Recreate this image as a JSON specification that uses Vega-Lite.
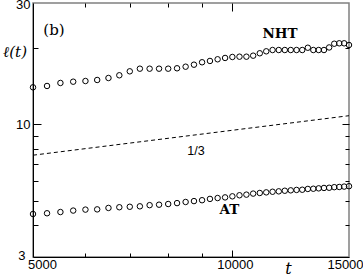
{
  "$schema": "https://vega.github.io/schema/vega-lite/v6.json",
  "width": 316,
  "height": 254,
  "autosize": "none",
  "padding": {"left": 33, "top": 3, "right": 14, "bottom": 19},
  "config": {"view": {"stroke": "#808080", "strokeWidth": 1.5}, "font": "Liberation Sans"},
  "datasets": {
    "points": [
      {"series": "NHT", "t": 5000, "l": 13.97}, {"series": "NHT", "t": 5250, "l": 14.14}, {"series": "NHT", "t": 5500, "l": 14.53},
      {"series": "NHT", "t": 5750, "l": 14.70}, {"series": "NHT", "t": 6000, "l": 14.79}, {"series": "NHT", "t": 6250, "l": 14.93},
      {"series": "NHT", "t": 6500, "l": 15.20}, {"series": "NHT", "t": 6750, "l": 15.58}, {"series": "NHT", "t": 7000, "l": 16.15},
      {"series": "NHT", "t": 7250, "l": 16.54}, {"series": "NHT", "t": 7500, "l": 16.54}, {"series": "NHT", "t": 7750, "l": 16.54},
      {"series": "NHT", "t": 8000, "l": 16.54}, {"series": "NHT", "t": 8250, "l": 16.60}, {"series": "NHT", "t": 8500, "l": 16.84},
      {"series": "NHT", "t": 8750, "l": 17.15}, {"series": "NHT", "t": 9000, "l": 17.53}, {"series": "NHT", "t": 9250, "l": 17.74},
      {"series": "NHT", "t": 9500, "l": 18.01}, {"series": "NHT", "t": 9750, "l": 18.23}, {"series": "NHT", "t": 10000, "l": 18.39},
      {"series": "NHT", "t": 10250, "l": 18.44}, {"series": "NHT", "t": 10500, "l": 18.44}, {"series": "NHT", "t": 10750, "l": 18.61},
      {"series": "NHT", "t": 11000, "l": 19.02}, {"series": "NHT", "t": 11250, "l": 19.36}, {"series": "NHT", "t": 11500, "l": 19.59},
      {"series": "NHT", "t": 11750, "l": 19.59}, {"series": "NHT", "t": 12000, "l": 19.59}, {"series": "NHT", "t": 12250, "l": 19.59},
      {"series": "NHT", "t": 12500, "l": 19.59}, {"series": "NHT", "t": 12750, "l": 19.59}, {"series": "NHT", "t": 13000, "l": 20.0},
      {"series": "NHT", "t": 13250, "l": 19.59}, {"series": "NHT", "t": 13500, "l": 19.59}, {"series": "NHT", "t": 13750, "l": 19.59},
      {"series": "NHT", "t": 14000, "l": 20.05}, {"series": "NHT", "t": 14250, "l": 20.74}, {"series": "NHT", "t": 14500, "l": 20.82},
      {"series": "NHT", "t": 14750, "l": 20.82}, {"series": "NHT", "t": 15000, "l": 20.5},
      {"series": "AT", "t": 5000, "l": 4.43}, {"series": "AT", "t": 5250, "l": 4.46}, {"series": "AT", "t": 5500, "l": 4.51},
      {"series": "AT", "t": 5750, "l": 4.57}, {"series": "AT", "t": 6000, "l": 4.61}, {"series": "AT", "t": 6250, "l": 4.62},
      {"series": "AT", "t": 6500, "l": 4.68}, {"series": "AT", "t": 6750, "l": 4.71}, {"series": "AT", "t": 7000, "l": 4.73},
      {"series": "AT", "t": 7250, "l": 4.75}, {"series": "AT", "t": 7500, "l": 4.80}, {"series": "AT", "t": 7750, "l": 4.82},
      {"series": "AT", "t": 8000, "l": 4.85}, {"series": "AT", "t": 8250, "l": 4.89}, {"series": "AT", "t": 8500, "l": 4.94},
      {"series": "AT", "t": 8750, "l": 4.98}, {"series": "AT", "t": 9000, "l": 5.02}, {"series": "AT", "t": 9250, "l": 5.08},
      {"series": "AT", "t": 9500, "l": 5.12}, {"series": "AT", "t": 9750, "l": 5.15}, {"series": "AT", "t": 10000, "l": 5.20},
      {"series": "AT", "t": 10250, "l": 5.25}, {"series": "AT", "t": 10500, "l": 5.28}, {"series": "AT", "t": 10750, "l": 5.33},
      {"series": "AT", "t": 11000, "l": 5.36}, {"series": "AT", "t": 11250, "l": 5.39}, {"series": "AT", "t": 11500, "l": 5.42},
      {"series": "AT", "t": 11750, "l": 5.44}, {"series": "AT", "t": 12000, "l": 5.47}, {"series": "AT", "t": 12250, "l": 5.49},
      {"series": "AT", "t": 12500, "l": 5.51}, {"series": "AT", "t": 12750, "l": 5.52}, {"series": "AT", "t": 13000, "l": 5.56},
      {"series": "AT", "t": 13250, "l": 5.57}, {"series": "AT", "t": 13500, "l": 5.59}, {"series": "AT", "t": 13750, "l": 5.61},
      {"series": "AT", "t": 14000, "l": 5.62}, {"series": "AT", "t": 14250, "l": 5.65}, {"series": "AT", "t": 14500, "l": 5.66},
      {"series": "AT", "t": 14750, "l": 5.68}, {"series": "AT", "t": 15000, "l": 5.70}
    ],
    "guide": [{"t": 5000, "l": 7.55}, {"t": 15000, "l": 10.8}],
    "seriesLabels": [{"t": 11800, "l": 22.65, "label": "NHT"}, {"t": 9900, "l": 4.59, "label": "AT"}],
    "panel": [{"t": 5378, "l": 23.5, "label": "(b)"}],
    "slope": [{"t": 8810, "l": 7.84, "label": "1/3"}]
  },
  "resolve": {"axis": {"x": "independent", "y": "independent"}},
  "layer": [
    {
      "data": {"name": "points"},
      "mark": {"type": "point", "shape": "circle", "filled": false, "stroke": "black", "strokeWidth": 1, "size": 30, "opacity": 1},
      "encoding": {
        "x": {
          "field": "t", "type": "quantitative",
          "scale": {"type": "log", "domain": [5000, 15000], "nice": false, "zero": false},
          "axis": {
            "orient": "bottom", "values": [5000, 10000, 15000], "format": "d",
            "ticks": false, "tickSize": 0, "grid": false,
            "domain": true, "domainColor": "black", "domainWidth": 1,
            "labelFont": "Liberation Sans", "labelFontSize": 13, "labelColor": "black",
            "labelPadding": 11.5, "labelBaseline": "alphabetic", "labelAlign": "center",
            "labelOverlap": false, "labelFlush": false,
            "labelOffset": {"condition": [{"test": "datum.value < 6000", "value": 9}, {"test": "datum.value > 14000", "value": -4}], "value": 2.5},
            "title": "t", "titleFont": "DejaVu Serif", "titleFontStyle": "italic", "titleFontWeight": "normal",
            "titleFontSize": 16, "titleColor": "black", "titleX": 255, "titleY": 16,
            "titleAlign": "center", "titleBaseline": "alphabetic"
          }
        },
        "y": {
          "field": "l", "type": "quantitative",
          "scale": {"type": "log", "domain": [3, 30], "nice": false, "zero": false},
          "axis": {
            "orient": "left", "values": [3, 10, 30], "format": "d",
            "ticks": false, "tickSize": 0, "grid": false,
            "domain": true, "domainColor": "black", "domainWidth": 1,
            "labelFont": "Liberation Sans", "labelFontSize": 13, "labelColor": "black",
            "labelPadding": {"condition": {"test": "datum.value < 4", "value": 8}, "value": 3},
            "labelOffset": {"condition": [{"test": "datum.value < 4", "value": -2}, {"test": "datum.value > 20", "value": 1}], "value": 0},
            "labelAlign": "right", "labelBaseline": "middle", "labelOverlap": false,
            "title": "ℓ(t)", "titleAngle": 0, "titleX": -18.5, "titleY": 48,
            "titleAlign": "center", "titleBaseline": "middle",
            "titleFont": "DejaVu Serif", "titleFontStyle": "italic", "titleFontWeight": "normal",
            "titleFontSize": 15, "titleColor": "black"
          }
        },
        "detail": {"field": "series", "type": "nominal"}
      }
    },
    {
      "data": {"name": "guide"},
      "mark": {"type": "line", "color": "black", "strokeWidth": 1, "strokeDash": [4, 3]},
      "encoding": {
        "x": {
          "field": "t", "type": "quantitative",
          "scale": {"type": "log", "domain": [5000, 15000], "nice": false, "zero": false},
          "axis": {
            "orient": "bottom", "values": [6000, 7000, 8000, 9000],
            "labels": false, "domain": false, "grid": false, "ticks": true,
            "tickColor": "black", "tickWidth": 1, "tickSize": 4, "offset": -4, "title": null
          }
        },
        "y": {
          "field": "l", "type": "quantitative",
          "scale": {"type": "log", "domain": [3, 30], "nice": false, "zero": false},
          "axis": {
            "orient": "left", "values": [4, 5, 6, 7, 8, 9, 20],
            "labels": false, "domain": false, "grid": false, "ticks": true,
            "tickColor": "black", "tickWidth": 1, "tickSize": 5, "offset": -5, "title": null
          }
        }
      }
    },
    {
      "data": {"name": "seriesLabels"},
      "mark": {"type": "text", "font": "DejaVu Serif", "fontWeight": "bold", "fontSize": 13.5, "align": "center", "baseline": "middle", "color": "black"},
      "encoding": {
        "x": {
          "field": "t", "type": "quantitative",
          "scale": {"type": "log", "domain": [5000, 15000], "nice": false, "zero": false},
          "axis": {
            "orient": "top", "values": [6000, 7000, 8000, 9000],
            "labels": false, "domain": false, "grid": false, "ticks": true,
            "tickColor": "black", "tickWidth": 1, "tickSize": 4, "offset": -4, "title": null
          }
        },
        "y": {
          "field": "l", "type": "quantitative",
          "scale": {"type": "log", "domain": [3, 30], "nice": false, "zero": false},
          "axis": {
            "orient": "right", "values": [4, 5, 6, 7, 8, 9, 20],
            "labels": false, "domain": false, "grid": false, "ticks": true,
            "tickColor": "black", "tickWidth": 1, "tickSize": 4, "offset": -4, "title": null
          }
        },
        "text": {"field": "label", "type": "nominal"}
      }
    },
    {
      "data": {"name": "panel"},
      "mark": {"type": "text", "font": "DejaVu Serif", "fontSize": 15, "align": "center", "baseline": "middle", "color": "black"},
      "encoding": {
        "x": {
          "field": "t", "type": "quantitative",
          "scale": {"type": "log", "domain": [5000, 15000], "nice": false, "zero": false},
          "axis": {
            "orient": "bottom", "values": [10000],
            "labels": false, "domain": false, "grid": false, "ticks": true,
            "tickColor": "black", "tickWidth": 1, "tickSize": 7, "offset": -7, "title": null
          }
        },
        "y": {
          "field": "l", "type": "quantitative",
          "scale": {"type": "log", "domain": [3, 30], "nice": false, "zero": false},
          "axis": {
            "orient": "left", "values": [10],
            "labels": false, "domain": false, "grid": false, "ticks": true,
            "tickColor": "black", "tickWidth": 1, "tickSize": 8, "offset": -8, "title": null
          }
        },
        "text": {"field": "label", "type": "nominal"}
      }
    },
    {
      "data": {"name": "slope"},
      "mark": {"type": "text", "font": "Liberation Sans", "fontSize": 12.5, "align": "center", "baseline": "middle", "color": "black"},
      "encoding": {
        "x": {
          "field": "t", "type": "quantitative",
          "scale": {"type": "log", "domain": [5000, 15000], "nice": false, "zero": false},
          "axis": {
            "orient": "top", "values": [10000],
            "labels": false, "domain": false, "grid": false, "ticks": true,
            "tickColor": "black", "tickWidth": 1, "tickSize": 8, "offset": -8, "title": null
          }
        },
        "y": {
          "field": "l", "type": "quantitative",
          "scale": {"type": "log", "domain": [3, 30], "nice": false, "zero": false},
          "axis": {
            "orient": "right", "values": [10],
            "labels": false, "domain": false, "grid": false, "ticks": true,
            "tickColor": "black", "tickWidth": 1, "tickSize": 7, "offset": -7, "title": null
          }
        },
        "text": {"field": "label", "type": "nominal"}
      }
    }
  ]
}
